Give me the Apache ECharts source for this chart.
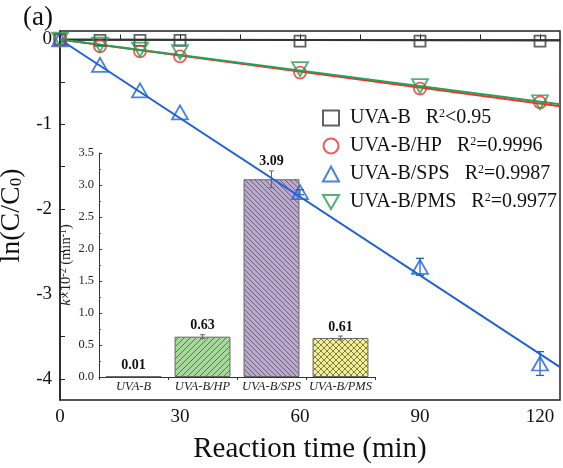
<!DOCTYPE html>
<html>
<head>
<meta charset="utf-8">
<script src="https://cdn.jsdelivr.net/npm/echarts@6/dist/echarts.min.js"></script>
<style>
  html, body { margin: 0; padding: 0; background: #fff; }
  #chart { width: 563px; height: 468px; }
</style>
</head>
<body>
<div id="chart"></div>
<script>
// main plot data
var times = [0, 10, 20, 30, 60, 90, 120];
var uvaB = [0, -0.01, -0.01, -0.01, -0.02, -0.02, -0.02];
var uvaHP = [0, -0.08, -0.14, -0.2, -0.39, -0.58, -0.74];
var uvaSPS = [0, -0.3, -0.6, -0.86, -1.8, -2.68, -3.82];
var uvaPMS = [0, -0.06, -0.12, -0.15, -0.35, -0.55, -0.74];
var spsErr = [0, 0, 0, 0, 0.03, 0.1, 0.14];
var xTicks = [0, 30, 60, 90, 120];
var yTicks = [0, -1, -2, -3, -4];
var r2Text = ['<0.95', '=0.9996', '=0.9987', '=0.9977'];

// inset data
var groups = ['UVA-B', 'UVA-B/HP', 'UVA-B/SPS', 'UVA-B/PMS'];
var kValues = [0.01, 0.63, 3.09, 0.61];
var kErr = [0, 0.03, 0.13, 0.03];

var serif = '"Liberation Serif", "DejaVu Serif", serif';
var colors = ['#3a3a3a', '#f03030', '#1f62d8', '#22a050'];
var lineColors = ['#333333', '#ff2a2a', '#1f62d8', '#22a357'];

function hatch(bg, kind, size) {
    var c = document.createElement('canvas');
    c.width = c.height = size;
    var g = c.getContext('2d');
    g.fillStyle = bg;
    g.fillRect(0, 0, size, size);
    g.strokeStyle = 'rgba(70,70,70,0.85)';
    g.lineWidth = 0.8;
    g.beginPath();
    if (kind === '/' || kind === 'x') {
        g.moveTo(-1, size + 1); g.lineTo(size + 1, -1);
        g.moveTo(-1, 1); g.lineTo(1, -1);
        g.moveTo(size - 1, size + 1); g.lineTo(size + 1, size - 1);
    }
    if (kind === '\\' || kind === 'x') {
        g.moveTo(-1, -1); g.lineTo(size + 1, size + 1);
        g.moveTo(size - 1, -1); g.lineTo(size + 1, 1);
        g.moveTo(-1, size - 1); g.lineTo(1, size + 1);
    }
    g.stroke();
    return { image: c, repeat: 'repeat' };
}

var barFills = [
    '#444444',
    hatch('#a6d89e', '/', 6),
    hatch('#bba8cf', '\\', 5),
    hatch('#f4f08a', 'x', 6)
];

var names = groups;
var sets = [uvaB, uvaHP, uvaSPS, uvaPMS];
var symbols = ['rect', 'circle', 'triangle', 'path://M0,0 L10,0 L5,8.66 Z'];
var sizes = [11, 12, [16, 14], [16, 14]];

var series = [];

// inset bars
series.push({
    type: 'bar',
    xAxisIndex: 1,
    yAxisIndex: 1,
    barWidth: '81%',
    z: 2,
    data: kValues.map(function (v, i) {
        return {
            value: v,
            itemStyle: { color: barFills[i], borderColor: '#666', borderWidth: 1 },
            label: { distance: i === 2 ? 11 : 4 }
        };
    }),
    label: {
        show: true,
        position: 'top',
        fontFamily: serif,
        fontWeight: 'bold',
        fontSize: 14,
        color: '#111',
        formatter: function (p) { return p.value.toFixed(2); }
    }
});

series.push({
    type: 'custom',
    xAxisIndex: 1,
    yAxisIndex: 1,
    z: 3,
    data: kValues.map(function (v, i) { return [i, v, kErr[i]]; }),
    renderItem: function (params, api) {
        var e = api.value(2);
        if (!e) return;
        var top = api.coord([api.value(0), api.value(1) + e]);
        var bot = api.coord([api.value(0), api.value(1) - e]);
        var w = 2.5;
        return {
            type: 'group',
            children: [
                { type: 'line', shape: { x1: top[0], y1: top[1], x2: bot[0], y2: bot[1] }, style: { stroke: '#666', lineWidth: 1 } },
                { type: 'line', shape: { x1: top[0] - w, y1: top[1], x2: top[0] + w, y2: top[1] }, style: { stroke: '#666', lineWidth: 1 } },
                { type: 'line', shape: { x1: bot[0] - w, y1: bot[1], x2: bot[0] + w, y2: bot[1] }, style: { stroke: '#666', lineWidth: 1 } }
            ]
        };
    }
});

// fitted lines, y = -k * t
kValues.forEach(function (k, i) {
    series.push({
        type: 'line',
        name: 'fit' + i,
        xAxisIndex: 0,
        yAxisIndex: 0,
        symbol: 'none',
        silent: true,
        z: 4 + (i === 1 ? 0 : 1),
        lineStyle: { color: lineColors[i], width: 2 },
        data: [[0, 0], [125, -k / 100 * 125]]
    });
});

// measured points
sets.forEach(function (d, i) {
    series.push({
        type: 'scatter',
        name: names[i],
        xAxisIndex: 0,
        yAxisIndex: 0,
        symbol: symbols[i],
        symbolSize: sizes[i],
        z: 6,
        itemStyle: { color: 'rgba(0,0,0,0)', borderColor: colors[i], borderWidth: 1.8 },
        data: times.map(function (t, j) { return [t, d[j]]; })
    });
});

series.push({
    type: 'custom',
    xAxisIndex: 0,
    yAxisIndex: 0,
    z: 6,
    data: times.map(function (t, j) { return [t, uvaSPS[j], spsErr[j]]; }),
    renderItem: function (params, api) {
        var e = api.value(2);
        if (!e) return;
        var top = api.coord([api.value(0), api.value(1) + e]);
        var bot = api.coord([api.value(0), api.value(1) - e]);
        var w = 4;
        var st = { stroke: colors[2], lineWidth: 1.3 };
        return {
            type: 'group',
            children: [
                { type: 'line', shape: { x1: top[0], y1: top[1], x2: bot[0], y2: bot[1] }, style: st },
                { type: 'line', shape: { x1: top[0] - w, y1: top[1], x2: top[0] + w, y2: top[1] }, style: st },
                { type: 'line', shape: { x1: bot[0] - w, y1: bot[1], x2: bot[0] + w, y2: bot[1] }, style: st }
            ]
        };
    }
});

var chart = echarts.init(document.getElementById('chart'));
chart.setOption({
    animation: false,
    backgroundColor: '#fff',
    title: {
        text: '(a)',
        left: 18,
        top: -1,
        textStyle: { fontFamily: serif, fontSize: 27, fontWeight: 'normal', color: '#111' }
    },
    legend: {
        data: names,
        orient: 'vertical',
        left: 317,
        top: 103,
        itemGap: 8,
        itemWidth: 16,
        itemHeight: 15,
        textStyle: {
            fontFamily: serif, fontSize: 20, color: '#111', padding: [0, 0, 0, 6],
            rich: {
                t: { fontFamily: serif, fontSize: 20, color: '#111' },
                s: { fontFamily: serif, fontSize: 12, color: '#111', verticalAlign: 'top', padding: [0, 0, 8, 0] }
            }
        },
        formatter: function (n) {
            var i = names.indexOf(n);
            return '{t|' + n + '   R}{s|2}{t|' + r2Text[i] + '}';
        }
    },
    grid: [
        { left: 60, right: 3, top: 31, bottom: 68, show: true, borderColor: '#222', borderWidth: 1.5, outerBoundsMode: 'none' },
        { left: 99, right: 188, top: 153, bottom: 91, outerBoundsMode: 'none' }
    ],
    xAxis: [
        {
            type: 'value',
            gridIndex: 0,
            min: 0,
            max: 125,
            name: 'Reaction time (min)',
            nameLocation: 'middle',
            nameGap: 35,
            nameTextStyle: { fontFamily: serif, fontSize: 29, color: '#111' },
            axisLine: { lineStyle: { color: '#222', width: 1.5 } },
            axisTick: { inside: true, length: 5, customValues: [0, 15, 30, 45, 60, 75, 90, 105, 120], lineStyle: { color: '#222' } },
            axisLabel: { customValues: xTicks, fontFamily: serif, fontSize: 19, color: '#111', margin: 8 },
            splitLine: { show: false }
        },
        {
            type: 'category',
            gridIndex: 1,
            data: groups,
            axisLine: { lineStyle: { color: '#333', width: 1 } },
            axisTick: { show: true, length: 3, lineStyle: { color: '#333' } },
            axisLabel: { fontFamily: serif, fontStyle: 'italic', fontSize: 12.5, color: '#222', margin: 3, interval: 0 }
        }
    ],
    yAxis: [
        {
            type: 'value',
            gridIndex: 0,
            min: -4.25,
            max: 0.1,
            name: '{a|ln(C/C}{s|0}{a|)}',
            nameLocation: 'middle',
            nameGap: 24,
            nameTextStyle: {
                rich: {
                    a: { fontFamily: serif, fontSize: 28, color: '#111' },
                    s: { fontFamily: serif, fontSize: 17, color: '#111', verticalAlign: 'bottom', padding: [10, 0, 0, 0] }
                }
            },
            axisLine: { show: true, lineStyle: { color: '#222', width: 1.5 } },
            axisTick: { show: true, inside: true, length: 5, customValues: [0, -0.5, -1, -1.5, -2, -2.5, -3, -3.5, -4], lineStyle: { color: '#222' } },
            axisLabel: { customValues: yTicks, fontFamily: serif, fontSize: 19, color: '#111', margin: 8 },
            splitLine: { show: false }
        },
        {
            type: 'value',
            gridIndex: 1,
            min: 0,
            max: 3.5,
            interval: 0.5,
            name: '{k|k}{a|\u00d710}{s|-2}{a| (min}{s|-1}{a|)}',
            nameLocation: 'middle',
            nameGap: 24,
            nameTextStyle: {
                rich: {
                    k: { fontFamily: serif, fontSize: 14.5, fontStyle: 'italic', color: '#222' },
                    a: { fontFamily: serif, fontSize: 14.5, color: '#222' },
                    s: { fontFamily: serif, fontSize: 10, color: '#222', verticalAlign: 'top', padding: [0, 0, 7, 0] }
                }
            },
            axisLine: { show: true, lineStyle: { color: '#333', width: 1 } },
            axisTick: { show: true, inside: true, length: 3, lineStyle: { color: '#333' } },
            minorTick: { show: true, splitNumber: 2, length: 2, lineStyle: { color: '#555' } },
            axisLabel: { fontFamily: serif, fontSize: 12.5, color: '#222', margin: 5, formatter: function (v) { return v.toFixed(1); } },
            splitLine: { show: false }
        }
    ],
    series: series
});
</script>
</body>
</html>
